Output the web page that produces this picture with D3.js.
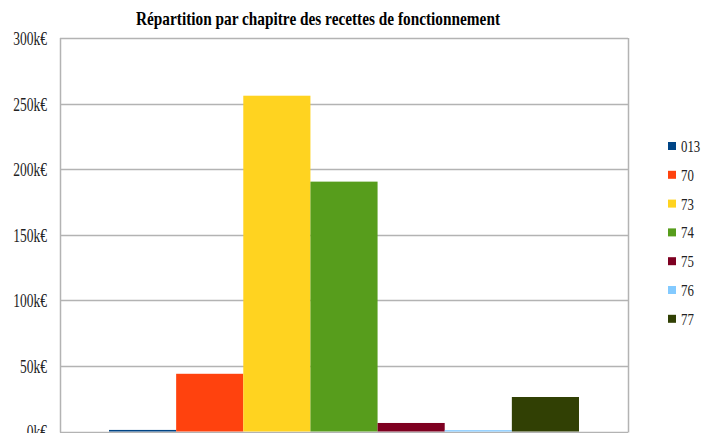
<!DOCTYPE html>
<html>
<head>
<style>
  body { margin: 0; background: #fff; }
  text { font-family: "Liberation Serif", "DejaVu Serif", serif; }
</style>
</head>
<body>
<script src="https://cdn.jsdelivr.net/npm/d3@7"></script>
<script>

  var chapters = ["013", "70", "73", "74", "75", "76", "77"];
  var amounts = [1200, 44000, 256000, 190500, 6500, 1000, 26300];
  var colors = ["#004586", "#ff420e", "#ffd320", "#579d1c", "#7e0021", "#83caff", "#314004"];
  var yTicks = [0, 50000, 100000, 150000, 200000, 250000, 300000];

  var width = 702;
  var height = 433;
  var plotLeft = 60, plotRight = 628, plotTop = 38, plotBottom = 431.5;

  var svg = d3.select("body")
      .append("svg")
      .attr("width", width)
      .attr("height", height);

  var x = d3.scaleBand()
      .domain(chapters)
      .range([plotLeft, plotRight])
      .paddingInner(0)
      .paddingOuter(0.73);

  var y = d3.scaleLinear()
      .domain([0, 300000])
      .range([plotBottom, plotTop]);

  // grid
  svg.selectAll(".grid")
      .data(yTicks)
      .enter()
      .append("line")
      .attr("x1", plotLeft)
      .attr("x2", plotRight)
      .attr("y1", function (d) { return Math.round(y(d)) + 0.5; })
      .attr("y2", function (d) { return Math.round(y(d)) + 0.5; })
      .attr("stroke", "#b3b3b3")
      .attr("stroke-width", 1.5);

  // frame sides
  svg.append("line")
      .attr("x1", plotLeft + 0.5).attr("x2", plotLeft + 0.5)
      .attr("y1", y(300000)).attr("y2", plotBottom + 1)
      .attr("stroke", "#b3b3b3").attr("stroke-width", 1.5);
  svg.append("line")
      .attr("x1", plotRight + 0.5).attr("x2", plotRight + 0.5)
      .attr("y1", y(300000)).attr("y2", plotBottom + 1)
      .attr("stroke", "#b3b3b3").attr("stroke-width", 1.5);

  // bars
  svg.selectAll(".bar")
      .data(amounts)
      .enter()
      .append("rect")
      .attr("x", function (d, i) { return x(chapters[i]); })
      .attr("width", x.bandwidth())
      .attr("y", function (d) { return y(d); })
      .attr("height", function (d) { return y(0) - y(d); })
      .attr("fill", function (d, i) { return colors[i]; });

  // y labels (condensed serif)
  svg.selectAll(".ylab")
      .data(yTicks)
      .enter()
      .append("text")
      .attr("x", 47)
      .attr("y", function (d) { return y(d) + 7; })
      .attr("text-anchor", "end")
      .attr("font-size", 18)
      .attr("transform", "translate(47,0) scale(0.75,1) translate(-47,0)")
      .attr("fill", "#222")
      .text(function (d) { return (d / 1000) + "k€"; });

  // title
  svg.append("text")
      .attr("x", 318)
      .attr("y", 25)
      .attr("text-anchor", "middle")
      .attr("font-size", 19)
      .attr("font-weight", "bold")
      .attr("textLength", 364)
      .attr("lengthAdjust", "spacingAndGlyphs")
      .text("Répartition  par  chapitre des  recettes de  fonctionnement");

  // legend
  var legend = svg.selectAll(".legend")
      .data(chapters)
      .enter()
      .append("g")
      .attr("transform", function (d, i) { return "translate(668," + (142 + i * 28.8) + ")"; });

  legend.append("rect")
      .attr("width", 8)
      .attr("height", 8)
      .attr("fill", function (d, i) { return colors[i]; });

  legend.append("text")
      .attr("x", 13)
      .attr("y", 10)
      .attr("font-size", 16)
      .attr("transform", "translate(13,0) scale(0.8,1) translate(-13,0)")
      .attr("fill", "#222")
      .text(function (d) { return d; });

</script>
</body>
</html>
